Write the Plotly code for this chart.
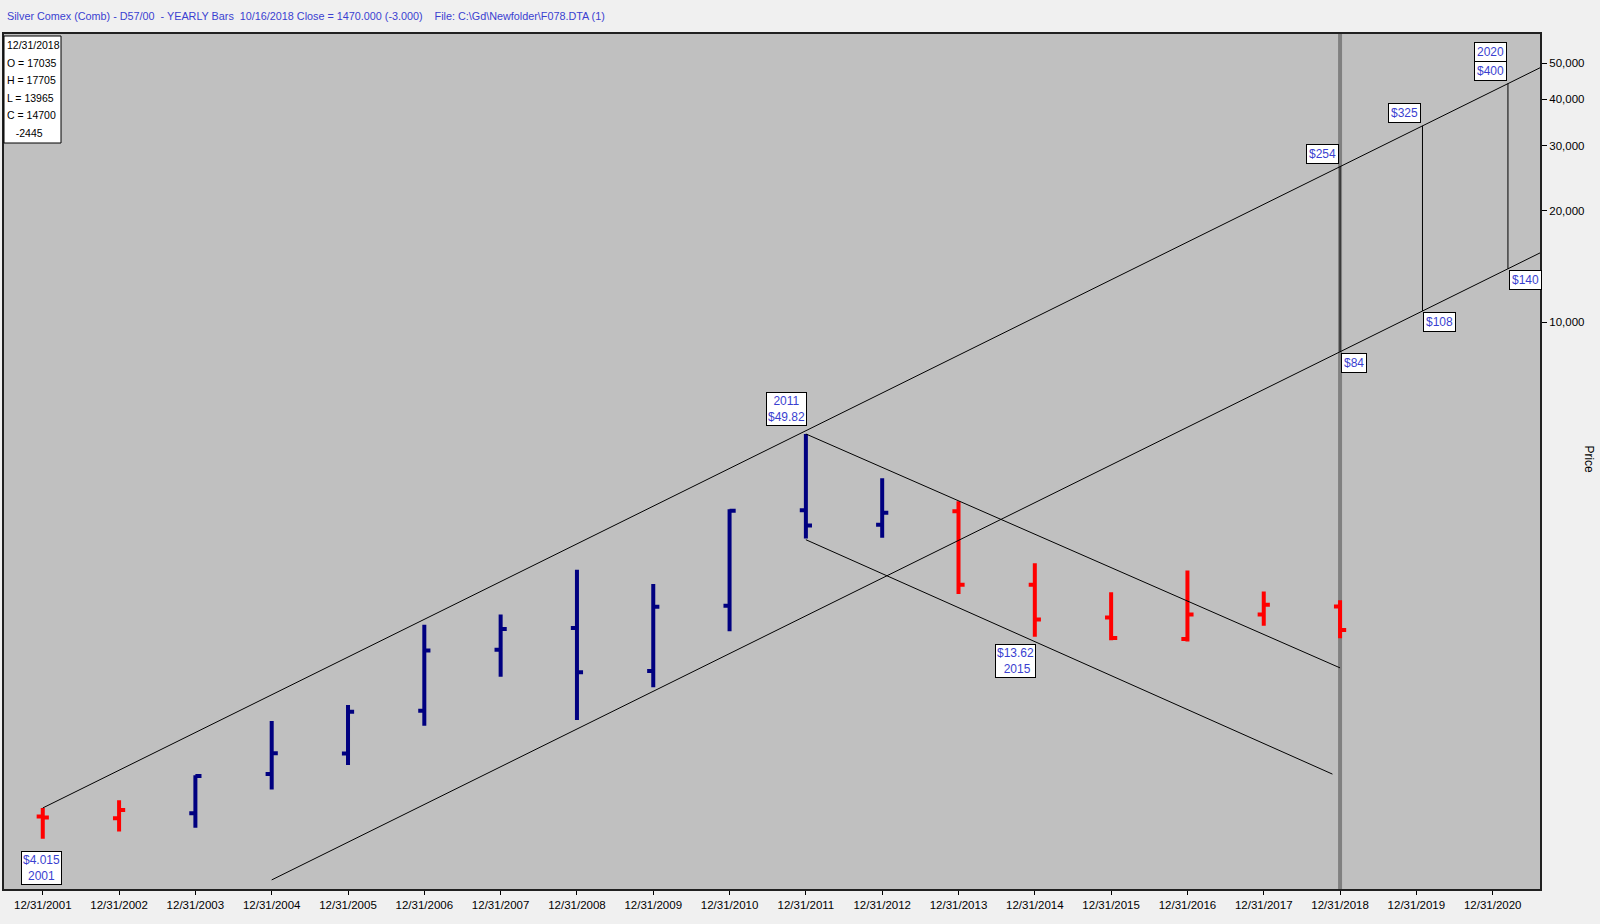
import math
import plotly.graph_objects as go

# ---------------- data (price axis units = cents) ----------------
years = list(range(2001, 2019))
opens = [461, 456, 470, 600, 682, 890, 1300, 1490, 1140, 1710, 3100, 2830, 3080, 1950, 1590, 1390, 1620, 1703.5]
highs = [486, 510, 596, 835, 923, 1520, 1620, 2140, 1960, 3120, 4982, 3780, 3280, 2230, 1860, 2130, 1870, 1770.5]
lows = [401.5, 420, 430, 545, 635, 810, 1100, 840, 1030, 1460, 2600, 2610, 1840, 1410, 1380, 1370, 1510, 1396.5]
closes = [458, 480, 593, 683, 885, 1295, 1480, 1130, 1700, 3090, 2820, 3050, 1950, 1570, 1400, 1620, 1720, 1470]
bar_group = ["red", "red", "blue", "blue", "blue", "blue", "blue", "blue", "blue", "blue",
             "blue", "blue", "red", "red", "red", "red", "red", "red"]

tick_years = list(range(2001, 2021))
tick_labels = ["12/31/%d" % y for y in tick_years]
price_ticks = [10000, 20000, 30000, 40000, 50000]
price_tick_labels = ["10,000", "20,000", "30,000", "40,000", "50,000"]

# channel anchors (year, price)
up_channel = [(2001, 486), (2018, 26300)]
channel_ratio = 3.165
lower_start_year = 2004
projection_years = [2018, 2019.08, 2020.2]
projection_up_labels = ["$254", "$325", "$400"]
projection_low_labels = ["$84", "$108", "$140"]
down_upper = [(2011, 4982), (2018, 1162)]
down_lower = [(2011, 2580), (2017.9, 600)]
current_year = 2018

ohlc_lines = ["12/31/2018", "O = 17035", "H = 17705", "L = 13965", "C = 14700", "\u00a0\u00a0\u00a0-2445"]
title_text = ("Silver Comex (Comb) - D57/00 \u00a0- YEARLY Bars \u00a010/16/2018 Close = 1470.000 (-3.000)"
              " \u00a0\u00a0\u00a0File: C:\\Gd\\Newfolder\\F078.DTA (1)")

X_MIN, X_MAX = 2000.492, 2020.62
Y_MIN, Y_MAX = 2.4676, 4.7784

FONT = "Liberation Sans, Arial, sans-serif"
BLUE_TXT = "#3a3fd0"
COLORS = {"red": "#ff0000", "blue": "#000080"}

# ---------------- helpers ----------------
(y0, p0), (y1, p1) = up_channel
slope = (math.log10(p1) - math.log10(p0)) / (y1 - y0)


def upper(yr):
    return p0 * 10 ** (slope * (yr - y0))


def lower(yr):
    return upper(yr) / channel_ratio


fig = go.Figure()

# gray current-date line
shapes = [dict(type="line", xref="x", yref="paper", x0=current_year, x1=current_year, y0=0, y1=1,
               line=dict(color="#808080", width=4), layer="below")]

# trend lines
line_style = dict(color="black", width=1)
fig.add_trace(go.Scatter(x=[y0, X_MAX], y=[upper(y0), upper(X_MAX)], mode="lines",
                         line=line_style, hoverinfo="skip", showlegend=False))
fig.add_trace(go.Scatter(x=[lower_start_year, X_MAX], y=[lower(lower_start_year), lower(X_MAX)],
                         mode="lines", line=line_style, hoverinfo="skip", showlegend=False))
for seg in (down_upper, down_lower):
    fig.add_trace(go.Scatter(x=[seg[0][0], seg[1][0]], y=[seg[0][1], seg[1][1]], mode="lines",
                             line=line_style, hoverinfo="skip", showlegend=False))
for yr in projection_years:
    fig.add_trace(go.Scatter(x=[yr, yr], y=[upper(yr), lower(yr)], mode="lines",
                             line=line_style, hoverinfo="skip", showlegend=False))

# OHLC bars
for grp, col in COLORS.items():
    idx = [i for i, g in enumerate(bar_group) if g == grp]
    fig.add_trace(go.Ohlc(
        x=[years[i] for i in idx],
        open=[opens[i] for i in idx], high=[highs[i] for i in idx],
        low=[lows[i] for i in idx], close=[closes[i] for i in idx],
        increasing=dict(line=dict(color=col, width=4)),
        decreasing=dict(line=dict(color=col, width=4)),
        tickwidth=0.08, showlegend=False, hoverinfo="skip"))

# annotations
box2 = dict(bgcolor="white", bordercolor="black", borderwidth=1, borderpad=1,
            font=dict(family=FONT, size=12, color=BLUE_TXT), showarrow=False)
box1 = dict(bgcolor="white", bordercolor="black", borderwidth=1, borderpad=2,
            font=dict(family=FONT, size=12, color=BLUE_TXT), showarrow=False)
ann = []
ann.append(dict(x=years[0], y=math.log10(lows[0]), text="$4.015<br>2001", xanchor="center",
                yanchor="top", yshift=-12, xshift=-1, **box2))
i11 = years.index(2011)
ann.append(dict(x=2011, y=math.log10(highs[i11]), text="2011<br>$49.82", xanchor="right",
                yanchor="bottom", yshift=8, xshift=1, **box2))
ann.append(dict(x=2014, y=math.log10(1362), text="$13.62<br>\u00a02015", xanchor="right",
                yanchor="top", xshift=1, yshift=-2, **box2))
for yr, t in zip(projection_years, projection_up_labels):
    ann.append(dict(x=yr, y=math.log10(upper(yr)), text=t, xanchor="right", yanchor="bottom",
                    yshift=3, xshift=-1, **box1))
for yr, t in zip(projection_years, projection_low_labels):
    ann.append(dict(x=yr, y=math.log10(lower(yr)), text=t, xanchor="left", yanchor="top",
                    xshift=1, yshift=-1, **box1))
ann.append(dict(x=projection_years[-1], y=math.log10(upper(projection_years[-1])), text="2020",
                xanchor="right", yanchor="bottom", yshift=22, xshift=-1, **box1))

# OHLC readout box (top-left)
shapes.append(dict(type="rect", xref="paper", yref="paper", xsizemode="pixel", ysizemode="pixel",
                   xanchor=0, yanchor=1, x0=0, x1=57, y0=-2, y1=-109,
                   fillcolor="white", line=dict(color="black", width=1), layer="above"))
for k, t in enumerate(ohlc_lines):
    ann.append(dict(xref="paper", yref="paper", x=0, y=1, text=t, xanchor="left", yanchor="middle",
                    showarrow=False, xshift=1, yshift=-(11 + 17.6 * k),
                    font=dict(family=FONT, size=10.5, color="black")))

ann.append(dict(xref="paper", yref="paper", x=0, y=1, text=title_text, xanchor="left",
                yanchor="bottom", showarrow=False, yshift=10, xshift=1,
                font=dict(family=FONT, size=10.8, color=BLUE_TXT)))
ann.append(dict(xref="paper", yref="paper", x=1.038, y=0.502, text="Price", textangle=90,
                showarrow=False, font=dict(family=FONT, size=12, color="black")))

fig.update_layout(
    width=1600, height=924,
    margin=dict(l=2, r=60, t=34, b=35),
    paper_bgcolor="#f0f0f0", plot_bgcolor="#c0c0c0",
    annotations=ann, shapes=shapes, showlegend=False, hovermode=False,
    font=dict(family=FONT, size=12, color="black"),
    xaxis=dict(range=[X_MIN, X_MAX], tickvals=tick_years, ticktext=tick_labels,
               showgrid=False, zeroline=False, ticks="outside", ticklen=4, tickcolor="black",
               showline=True, linecolor="#202020", linewidth=2, mirror=True,
               rangeslider=dict(visible=False), tickfont=dict(family=FONT, size=11.5, color="black")),
    yaxis=dict(type="log", range=[Y_MIN, Y_MAX], side="right", tickvals=price_ticks,
               ticktext=price_tick_labels, showgrid=False, zeroline=False, ticks="outside",
               ticklen=5, tickcolor="black", showline=True, linecolor="#202020", linewidth=2,
               mirror=True, tickfont=dict(family=FONT, size=11.5, color="black")),
)

fig.write_html("out.html", config={"displayModeBar": False},
               post_script="document.body.style.margin='0px';")
